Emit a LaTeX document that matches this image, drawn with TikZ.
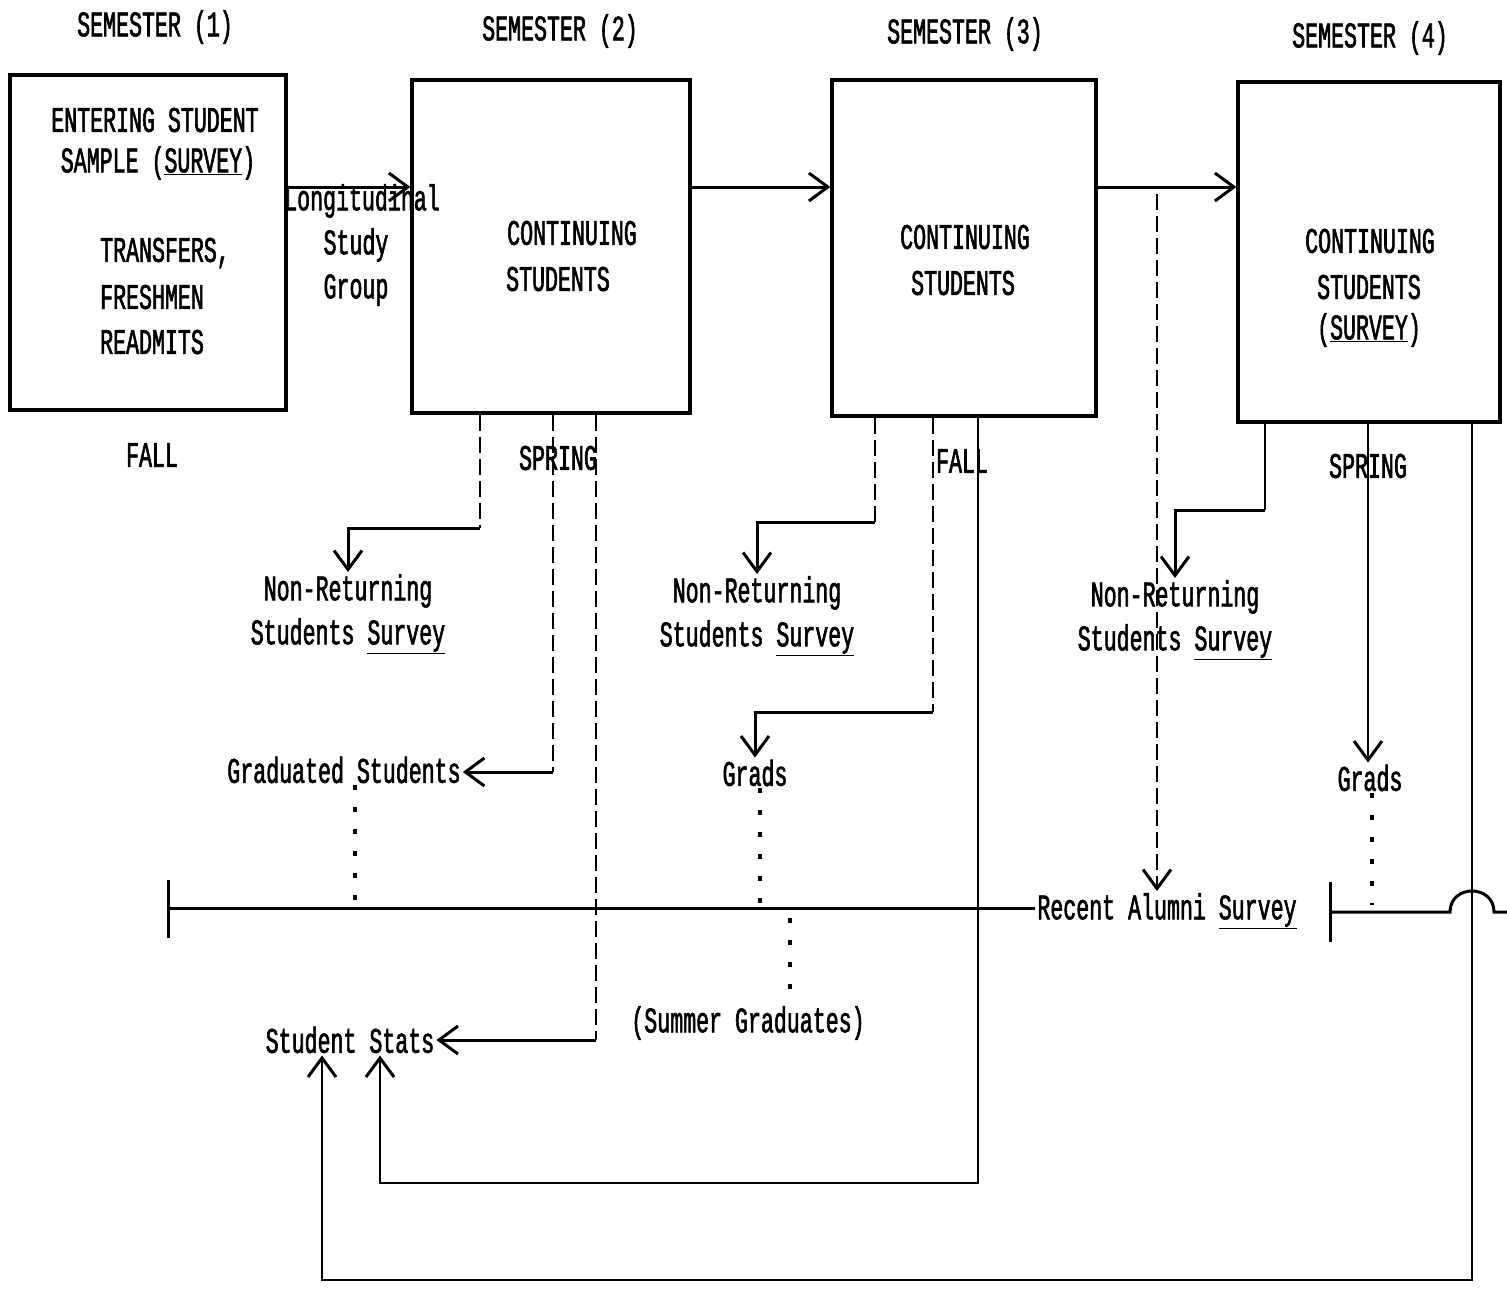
\documentclass[tikz,border=0pt]{standalone}
\usepackage{fontspec}
\newfontfamily\tw[FakeStretch=0.6, FakeBold=1.6]{Liberation Mono}
\usetikzlibrary{arrows.meta,calc}
\begin{document}
\begin{tikzpicture}[x=1pt,y=-1pt,
 txt/.style={font=\tw\fontsize{36}{44}\selectfont, inner sep=2pt},
 box/.style={draw, line width=3.2pt, inner sep=0pt},
 conn/.style={line width=3pt},
 thin/.style={line width=2.3pt},
 tip/.style={-{Straight Barb[length=19pt,width=28pt,line width=3pt]}},
 arr/.style={conn, tip},
 dashline/.style={line width=2.4pt, dash pattern=on 16pt off 6pt},
 dotline/.style={line width=3.2pt, dash pattern=on 5pt off 17pt},
]
\useasboundingbox[fill=white] (0,0) rectangle (1507,1306);

% boxes
\node[box, minimum width=276pt, minimum height=335pt] (b1) at (148,242.5) {};
\node[box, minimum width=278pt, minimum height=333pt] (b2) at (551,246.5) {};
\node[box, minimum width=264pt, minimum height=336pt] (b3) at (964,248) {};
\node[box, minimum width=262pt, minimum height=340pt] (b4) at (1369,252) {};

% semester labels
\node[txt] (s1lab) at (155,27) {SEMESTER (1)};
\node[txt] (s2lab) at (560,31) {SEMESTER (2)};
\node[txt] (s3lab) at (965,34) {SEMESTER (3)};
\node[txt] (s4lab) at (1370,38) {SEMESTER (4)};

% box texts
\node[txt] (t1a) at (155,120) {ENTERING STUDENT};
\node[txt] (t1b) at (158,163) {SAMPLE (\underline{SURVEY})};
\node[txt, anchor=west] (t1c) at (98,253) {TRANSFERS,};
\node[txt, anchor=west] (t1d) at (98,297) {FRESHMEN};
\node[txt, anchor=west] (t1e) at (98,342) {READMITS};

\node[txt] (t2a) at (572,233) {CONTINUING};
\node[txt] (t2b) at (558,279) {STUDENTS};
\node[txt] (t3a) at (965,237) {CONTINUING};
\node[txt] (t3b) at (963,283) {STUDENTS};
\node[txt] (t4a) at (1370,241) {CONTINUING};
\node[txt] (t4b) at (1369,287) {STUDENTS};
\node[txt] (t4c) at (1369,330) {(\underline{SURVEY})};

\node[txt] (lg1) at (362,201) {Longitudinal};
\node[txt] (lg2) at (356,245) {Study};
\node[txt] (lg3) at (356,290) {Group};

% seasons
\node[txt] (f1) at (152,455) {FALL};
\node[txt] (sp2) at (558,458) {SPRING};
\node[txt] (f3) at (962,461) {FALL};
\node[txt] (sp4) at (1368,466) {SPRING};

% outcome labels
\node[txt, align=center] (nr1) at (348,614) {Non-Returning\\Students \underline{Survey}};
\node[txt, align=center] (nr2) at (757,616) {Non-Returning\\Students \underline{Survey}};
\node[txt, align=center] (nr3) at (1175,620) {Non-Returning\\Students \underline{Survey}};
\node[txt] (grad1) at (344,770) {Graduated Students};
\node[txt] (grads2) at (755,773) {Grads};
\node[txt] (grads3) at (1370,778) {Grads};
\node[txt] (alum) at (1167,911) {Recent Alumni \underline{Survey}};
\node[txt] (stats) at (350,1040) {Student Stats};
\node[txt] (summer) at (748,1023) {(Summer Graduates)};

% arrows between boxes
\coordinate (r1) at (0,187);
\draw[arr] (b1.east |- r1) -- (b2.west |- r1);
\draw[arr] (b2.east |- r1) -- (b3.west |- r1);
\draw[arr] (b3.east |- r1) -- (b4.west |- r1);

% from semester 2
\coordinate (k1) at (480,528);
\draw[dashline] (k1 |- b2.south) -- (k1);
\draw[arr] (k1) -- (nr1.north |- k1) -- (nr1.north);
\coordinate (k2) at (553,772);
\draw[dashline] (k2 |- b2.south) -- (k2);
\draw[arr] (k2) -- (grad1.east |- k2);
\coordinate (k3) at (596,1040);
\draw[dashline] (k3 |- b2.south) -- (k3);
\draw[arr] (k3) -- (stats.east |- k3);

% from semester 3
\coordinate (k4) at (875,522);
\draw[dashline] (k4 |- b3.south) -- (k4);
\draw[arr] (k4) -- (nr2.north |- k4) -- (nr2.north);
\coordinate (k5) at (933,712);
\draw[dashline] (k5 |- b3.south) -- (k5);
\draw[arr] (k5) -- (grads2.north |- k5) -- (grads2.north);
\coordinate (m1) at (978,1183);
\coordinate (m2) at (380,1183);
\draw[thin, tip] (m1 |- b3.south) -- (m1) -- (m2) -- (m2 |- stats.south);

% to alumni survey
\coordinate (a0) at (1157,194);
\draw[dashline, tip] (a0) -- (alum.north -| a0);

% from semester 4
\coordinate (k6) at (1265,510);
\draw[thin] (k6 |- b4.south) -- (k6);
\draw[arr] (k6) -- (nr3.north |- k6) -- (nr3.north);
\coordinate (k7) at (1368,700);
\draw[thin, tip] (k7 |- b4.south) -- (k7 |- grads3.north);
\coordinate (n1) at (1472,1280);
\coordinate (n2) at (322,1280);
\draw[thin, tip] (n1 |- b4.south) -- (n1) -- (n2) -- (n2 |- stats.south);

% alumni line
\coordinate (L0) at (168,908);
\draw[conn] (168,880) -- (168,938);
\draw[conn] (L0) -- (alum.west |- L0);
\coordinate (R0) at (1330,912);
\draw[conn] (1330,882) -- (1330,942);
\draw[conn] (R0) -- (1450,912) .. controls (1450,884) and (1494,884) .. (1494,912) -- (1507,912);

% dotted lines
\coordinate (d1) at (355,908);
\draw[dotline] (d1 |- grad1.south) -- (d1);
\coordinate (d2) at (760,908);
\draw[dotline] (d2 |- grads2.south) -- (d2);
\coordinate (d3) at (790,918);
\draw[dotline] (d3) -- (summer.north -| d3);
\coordinate (d4) at (1372,905);
\draw[dotline] (d4 |- grads3.south) -- (d4);
\end{tikzpicture}
\end{document}
